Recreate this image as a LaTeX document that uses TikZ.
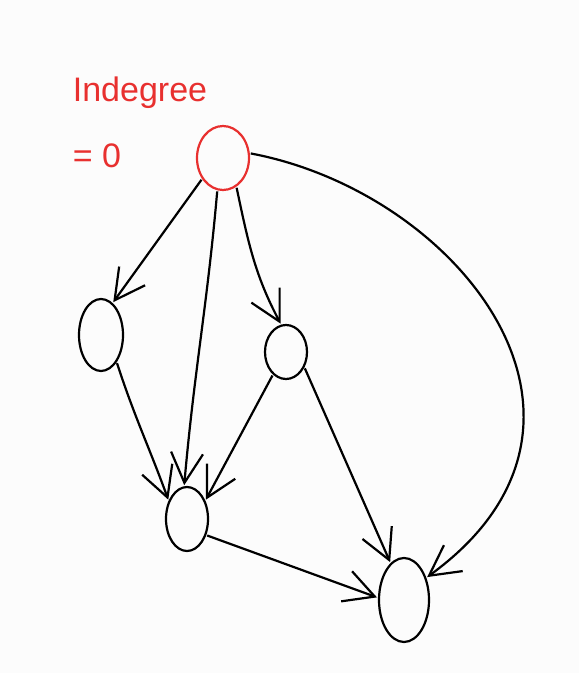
\documentclass[tikz,border=0pt]{standalone}
\usepackage{fontspec}
\setmainfont{Liberation Sans}
\usetikzlibrary{shapes.geometric,arrows.meta}
\definecolor{bg}{HTML}{FCFCFC}
\definecolor{pen}{HTML}{E8302F}
\tikzset{
  vert/.style={draw=black, line width=2.2pt, ellipse, inner sep=0pt},
  edge/.style={draw=black, line width=2.2pt, -{Straight Barb[length=30pt,width=32pt]}, shorten >=1pt, shorten <=1pt},
  lbl/.style={text=pen, font=\fontsize{34}{38}\selectfont}
}
\begin{document}
\begin{tikzpicture}[x=1pt,y=1pt]
\fill[bg] (0,0) rectangle (579,673);
\useasboundingbox (0,0) rectangle (579,673);
\node[vert, draw=pen, minimum width=52pt, minimum height=64pt] (T) at (223,515) {};
\node[vert, minimum width=44pt, minimum height=72pt] (L) at (101,338) {};
\node[vert, minimum width=42pt, minimum height=54pt] (M) at (286,321) {};
\node[vert, minimum width=42pt, minimum height=64pt] (B) at (187,154) {};
\node[vert, minimum width=50pt, minimum height=84pt] (R) at (404,73) {};
\node[lbl] (t1) at (140,580) {Indegree};
\node[lbl] (t2) at (97,517) {= 0};
\draw[edge] (T.225) -- (L.70);
\draw[edge] (T.260) to[out=-95,in=85] (B.95);
\draw[edge] (T.295) to[out=-78,in=118] (M.100);
\draw[edge] (T.10) .. controls (460,480) and (640,250) .. (R.45);
\draw[edge] (L.300) to[out=-72,in=110] (B.135);
\draw[edge] (M.240) -- (B.45);
\draw[edge] (M.320) -- (R.110);
\draw[edge] (B.320) to[out=-20,in=160] (R.175);
\end{tikzpicture}
\end{document}
